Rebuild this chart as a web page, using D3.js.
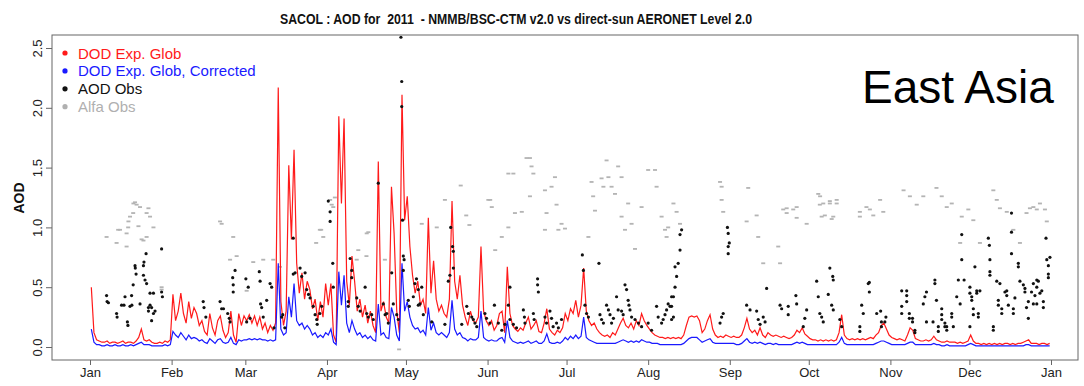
<!DOCTYPE html>
<html><head><meta charset="utf-8">
<script src="https://cdn.jsdelivr.net/npm/d3@7"></script>
<style>body{margin:0;background:#fff}svg{display:block}</style>
</head><body><svg id="c" width="1084" height="386"></svg>
<script>
// ---- data ----
const monthLabels = ["Jan","Feb","Mar","Apr","May","Jun","Jul","Aug","Sep","Oct","Nov","Dec","Jan"];
const yTicks = [0, 0.5, 1.0, 1.5, 2.0, 2.5];

// daily modelled dust optical depth (day 0 = 1 Jan 2011)
const dodGlob = [
// Jan
0.50,0.12,0.06,0.05,0.04,0.04,0.05,0.03,0.04,0.04,0.03,0.04,0.05,0.03,0.04,0.04,0.03,0.05,0.08,0.15,0.06,0.05,0.06,0.04,0.03,0.03,0.04,0.03,0.05,0.04,0.06,
// Feb
0.44,0.22,0.30,0.45,0.28,0.20,0.38,0.24,0.33,0.28,0.18,0.22,0.13,0.10,0.28,0.16,0.10,0.22,0.26,0.14,0.08,0.12,0.30,0.10,0.04,0.28,0.18,0.26,
// Mar
0.22,0.27,0.20,0.26,0.18,0.25,0.15,0.20,0.12,0.18,0.14,0.20,2.17,0.38,0.18,0.30,1.52,0.90,1.65,0.70,0.45,0.62,0.40,0.55,0.48,0.32,0.40,0.22,0.38,0.25,0.53,
// Apr
0.35,0.53,0.10,0.04,1.93,1.20,1.91,0.55,0.35,0.76,0.55,0.30,0.40,0.25,0.35,0.20,0.30,0.18,0.12,1.55,0.30,0.38,0.25,0.20,1.34,0.95,0.30,0.12,2.11,1.06,
// May
1.26,0.84,0.60,0.45,0.55,0.35,0.40,0.28,1.08,0.45,0.72,0.40,0.30,0.35,0.28,0.25,0.40,1.22,0.55,0.40,0.60,0.35,0.25,0.18,0.30,0.22,0.20,0.25,0.84,0.30,0.22,
// Jun
0.18,0.22,0.14,0.18,0.28,0.30,0.12,0.67,0.28,0.18,0.15,0.13,0.16,0.14,0.20,0.25,0.15,0.18,0.22,0.13,0.12,0.20,0.32,0.15,0.12,0.10,0.14,0.12,0.16,0.28,
// Jul
0.22,0.32,0.28,0.39,0.25,0.35,0.66,0.30,0.22,0.18,0.20,0.15,0.12,0.10,0.09,0.10,0.08,0.12,0.10,0.15,0.20,0.24,0.18,0.16,0.20,0.15,0.22,0.18,0.28,0.22,0.18,
// Aug
0.15,0.12,0.10,0.09,0.08,0.08,0.07,0.08,0.07,0.08,0.07,0.08,0.07,0.10,0.18,0.25,0.26,0.25,0.26,0.22,0.12,0.15,0.22,0.27,0.15,0.10,0.08,0.09,0.08,0.10,0.09,
// Sep
0.08,0.09,0.08,0.08,0.10,0.16,0.24,0.15,0.12,0.14,0.10,0.16,0.10,0.08,0.12,0.10,0.09,0.10,0.09,0.08,0.09,0.08,0.07,0.08,0.10,0.14,0.12,0.16,0.11,0.09,
// Oct
0.07,0.06,0.06,0.05,0.06,0.05,0.06,0.05,0.06,0.05,0.06,0.12,0.27,0.10,0.07,0.06,0.07,0.06,0.07,0.06,0.07,0.06,0.07,0.08,0.07,0.10,0.12,0.18,0.20,0.15,0.10,
// Nov
0.08,0.07,0.06,0.07,0.06,0.05,0.10,0.16,0.14,0.07,0.06,0.05,0.05,0.06,0.05,0.06,0.09,0.06,0.05,0.04,0.04,0.05,0.04,0.04,0.04,0.03,0.04,0.03,0.04,0.05,
// Dec
0.10,0.05,0.03,0.03,0.02,0.03,0.02,0.03,0.02,0.03,0.02,0.03,0.02,0.03,0.03,0.02,0.03,0.02,0.03,0.03,0.04,0.05,0.06,0.03,0.03,0.03,0.02,0.03,0.03,0.02,0.03
];

const dodCorr = [
// Jan
0.15,0.04,0.02,0.02,0.01,0.01,0.02,0.01,0.01,0.02,0.01,0.01,0.02,0.01,0.01,0.02,0.01,0.02,0.03,0.04,0.02,0.02,0.02,0.01,0.01,0.01,0.01,0.01,0.02,0.01,0.02,
// Feb
0.13,0.10,0.08,0.12,0.09,0.06,0.10,0.07,0.08,0.07,0.05,0.06,0.04,0.03,0.07,0.05,0.03,0.06,0.07,0.04,0.03,0.04,0.08,0.03,0.02,0.06,0.05,0.06,
// Mar
0.06,0.07,0.06,0.07,0.06,0.07,0.06,0.06,0.05,0.06,0.05,0.06,0.70,0.15,0.10,0.12,0.42,0.25,0.53,0.22,0.18,0.20,0.15,0.18,0.15,0.10,0.12,0.08,0.10,0.08,0.12,
// Apr
0.10,0.15,0.04,0.02,0.63,0.35,0.60,0.20,0.12,0.22,0.15,0.10,0.12,0.08,0.10,0.07,0.09,0.06,0.05,0.36,0.10,0.12,0.08,0.07,0.33,0.25,0.10,0.05,0.70,0.30,
// May
0.38,0.25,0.18,0.15,0.16,0.12,0.14,0.10,0.33,0.14,0.20,0.12,0.10,0.12,0.10,0.08,0.12,0.39,0.15,0.10,0.12,0.08,0.07,0.05,0.07,0.06,0.06,0.08,0.30,0.08,0.06,
// Jun
0.05,0.06,0.05,0.05,0.07,0.08,0.04,0.22,0.08,0.05,0.04,0.03,0.04,0.03,0.04,0.05,0.03,0.04,0.05,0.03,0.03,0.05,0.11,0.04,0.03,0.03,0.04,0.03,0.05,0.08,
// Jul
0.06,0.09,0.07,0.10,0.07,0.09,0.25,0.08,0.06,0.05,0.04,0.03,0.03,0.03,0.03,0.03,0.03,0.03,0.03,0.04,0.05,0.06,0.05,0.04,0.05,0.04,0.05,0.04,0.06,0.05,0.04,
// Aug
0.04,0.03,0.03,0.03,0.02,0.02,0.02,0.02,0.02,0.02,0.02,0.02,0.02,0.03,0.05,0.07,0.08,0.08,0.08,0.06,0.04,0.05,0.06,0.07,0.04,0.03,0.03,0.03,0.03,0.03,0.03,
// Sep
0.03,0.03,0.02,0.02,0.03,0.05,0.07,0.04,0.03,0.04,0.03,0.04,0.03,0.02,0.03,0.03,0.02,0.03,0.02,0.02,0.02,0.02,0.02,0.02,0.03,0.04,0.03,0.04,0.03,0.02,
// Oct
0.02,0.02,0.02,0.02,0.02,0.02,0.02,0.02,0.02,0.02,0.02,0.04,0.08,0.03,0.02,0.02,0.02,0.02,0.02,0.02,0.02,0.02,0.02,0.02,0.02,0.03,0.04,0.05,0.05,0.04,0.03,
// Nov
0.02,0.02,0.02,0.02,0.02,0.02,0.03,0.04,0.04,0.02,0.02,0.02,0.02,0.02,0.02,0.02,0.03,0.02,0.02,0.01,0.01,0.02,0.01,0.01,0.01,0.01,0.01,0.01,0.01,0.02,
// Dec
0.03,0.02,0.01,0.01,0.01,0.01,0.01,0.01,0.01,0.01,0.01,0.01,0.01,0.01,0.01,0.01,0.01,0.01,0.01,0.01,0.01,0.02,0.02,0.01,0.01,0.01,0.01,0.01,0.01,0.01,0.01
];

// AERONET AOD observations: [day of year, AOD]
const aodObs = [
[6.3,0.43],[6.5,0.38],[7.0,0.37],[10.1,0.28],[10.3,0.25],[12.0,0.35],[12.9,0.35],[13.3,0.42],[14.2,0.21],[14.4,0.18],[15.2,0.34],[15.8,0.43],[16.4,0.52],[17.1,0.68],[17.2,0.66],[17.5,0.61],[15.9,0.35],[19.0,0.36],[20.3,0.68],[20.5,0.71],[21.3,0.78],[20.3,0.60],[20.9,0.56],[21.5,0.53],[22.2,0.33],[22.2,0.30],[22.8,0.45],[24.1,0.45],[22.8,0.35],[23.4,0.33],[24.1,0.28],[23.4,0.22],[24.7,0.30],[27.2,0.82],[27.2,0.46],[27.5,0.42],
[43.0,0.38],[43.3,0.33],[44.0,0.25],[49.4,0.38],[50.0,0.32],[50.7,0.32],[52.3,0.28],[52.9,0.24],[53.2,0.21],[54.4,0.52],[54.4,0.46],[55.1,0.64],[54.2,0.58],
[59.2,0.57],[59.5,0.21],[60.1,0.50],[60.8,0.24],[64.3,0.63],[64.6,0.55],[64.8,0.36],[65.2,0.33],[65.8,0.25],[67.1,0.39],[68.4,0.53],[69.0,0.50],[69.9,0.16],[74.0,0.16],[73.2,0.27],[77.2,0.91],[77.2,0.61],
[72.8,0.25],[77.9,0.62],[79.8,0.66],[80.4,0.59],[81.7,0.62],[82.3,0.48],[83.0,0.44],[83.6,0.41],[84.8,0.34],[85.5,0.27],[86.1,0.23],[86.3,0.19],[87.3,0.28],[88.0,0.34],[90.5,1.22],[91.2,1.13],[91.2,1.05],[92.2,0.70],[92.4,0.50],[98.8,0.74],[99.4,0.64],[99.4,0.58],[98.1,0.38],[98.1,0.34],[101.3,0.41],[101.9,0.34],[102.6,0.30],[104.5,0.50],[105.1,0.28],[105.7,0.25],[107.0,0.27],[107.6,0.23],[109.5,1.37],[111.4,0.36],[112.1,0.27],[112.7,0.28],[113.3,0.20],[114.6,0.62],[115.2,0.36],[116.5,0.27],[117.1,0.23],[118.1,2.59],[118.4,2.22],[118.4,2.01],[118.7,1.06],[119.0,0.76],[119.3,0.73],[119.0,0.64],[120.9,0.39],[121.3,0.34],[122.8,0.42],[123.4,0.53],[124.0,0.57],[124.7,0.48],[125.3,0.36],[126.0,0.50],[124.7,0.35],[126.6,0.27],[129.8,0.21],[134.8,0.19],[136.1,0.55],[136.7,0.60],[137.0,1.00],[137.7,0.84],[138.0,0.80],[138.0,0.66],[141.2,0.19],[143.1,0.34],[143.7,0.28],[145.0,0.25],[145.6,0.23],[146.2,0.20],[146.9,0.17],
[150.0,0.28],[150.6,0.24],[151.9,0.20],[153.6,0.35],[155.1,0.20],[156.4,0.14],[157.6,0.19],[158.9,0.35],[159.5,0.50],[159.5,0.23],[160.8,0.19],[162.0,0.16],[164.6,0.31],[165.0,0.25],[165.2,0.20],[168.4,0.28],[168.7,0.23],[170.0,0.57],[170.0,0.52],[170.3,0.46],[172.8,0.25],[173.4,0.20],[174.7,0.30],[175.3,0.24],[175.9,0.17],[177.2,0.20],[177.9,0.16],[179.1,0.23],[187.0,0.77],[187.4,0.64],[188.0,0.35],[188.6,0.28],[189.3,0.25],[193.3,0.70],[193.7,0.27],[194.3,0.23],[195.0,0.20],[196.2,0.35],[196.9,0.31],[197.5,0.27],[198.1,0.20],[198.8,0.24],[200.0,0.42],[200.6,0.31],[201.9,0.30],[202.5,0.27],[203.2,0.52],[203.8,0.48],[204.4,0.39],[204.7,0.35],[205.1,0.31],[205.7,0.25],[207.0,0.23],[208.3,0.20],[209.5,0.17],[212.0,0.20],[213.3,0.14],[215.2,0.34],[215.8,0.25],[217.1,0.20],[217.7,0.23],[218.4,0.27],[219.0,0.31],[219.6,0.36],[220.3,0.34],[220.9,0.42],
[220.9,0.34],[221.6,0.42],[222.2,0.50],[222.8,0.59],[222.2,0.67],[223.4,0.70],[224.1,0.81],[224.1,0.94],[224.7,0.98],[221.6,0.25],[220.9,0.23],[239.3,0.20],[239.9,0.25],[240.5,0.28],[242.1,1.00],[242.4,0.95],[242.8,0.87],[242.4,0.84],[242.4,0.78],[249.4,0.35],[250.7,0.31],[253.2,0.30],[253.8,0.23],[254.5,0.19],[255.7,0.25],[256.4,0.21],[257.0,0.49],[262.1,0.35],[262.7,0.32],[265.2,0.34],[265.2,0.27],[268.1,0.43],[268.4,0.36],[270.9,0.17],[271.5,0.24],[272.2,0.31],[276.0,0.55],[276.6,0.42],[277.2,0.28],[277.9,0.25],[278.5,0.21],[280.4,0.44],[281.0,0.66],[282.1,0.59],[282.3,0.56],[281.7,0.35],[282.3,0.31],[284.8,0.23],[285.5,0.17],[293.1,0.35],[293.7,0.28],[295.6,0.53],
[292.4,0.17],[292.4,0.13],[296.0,0.54],[296.0,0.46],[298.8,0.28],[300.3,0.30],[300.6,0.21],[300.6,0.17],[301.9,0.21],[302.3,0.25],[308.3,0.47],[308.3,0.34],[308.3,0.28],[310.2,0.47],[310.2,0.43],[310.2,0.38],[311.2,0.28],[311.2,0.24],[312.4,0.24],[312.4,0.21],[313.3,0.14],[313.3,0.12],[316.5,0.36],[317.1,0.42],[317.7,0.46],[317.7,0.21],[320.2,0.21],[320.9,0.56],[320.9,0.53],[321.5,0.39],[322.2,0.17],[322.2,0.13],[323.5,0.32],[323.5,0.27],[323.5,0.23],[324.7,0.20],[324.7,0.17],[325.4,0.17],[325.4,0.14],[327.3,0.28],[327.3,0.25],[327.9,0.17],[329.2,0.42],[329.8,0.56],[330.5,0.36],[331.1,0.94],[331.1,0.73],[332.0,0.56],[334.2,0.50],[334.2,0.45],[334.9,0.42],[334.9,0.39],[334.2,0.17],[335.5,0.32],[335.5,0.27],[336.1,0.67],[336.8,0.47],[336.8,0.45],[337.4,0.28],[337.4,0.25],[338.0,0.47],[341.2,0.91],[341.6,0.85],[341.8,0.73],[341.8,0.63],[341.8,0.60],[343.1,0.17],[343.1,0.14],[344.4,0.55],[345.0,0.39],[345.0,0.35],[345.6,0.53],[346.3,0.32],[346.3,0.28],[347.5,0.46],[348.2,0.47],[348.2,0.43],[348.8,0.35],[350.0,1.12],[350.0,0.96],[350.0,0.78],[350.7,0.32],[350.7,0.28],[351.3,0.41],[352.6,0.70],[352.6,0.67],[353.2,0.55],[354.5,0.52],[355.1,0.49],[355.1,0.46],[355.7,0.33],[356.4,0.38],[356.4,0.24],[357.6,0.46],[358.3,0.53],[358.3,0.36],[358.9,0.43],[359.6,0.56],[359.6,0.50],[359.6,0.36],[360.2,0.55],[360.8,0.45],[361.5,0.47],[362.1,0.38],[362.1,0.33],[363.1,0.91],[363.4,0.73],[364.0,0.68],[364.0,0.61],[364.0,0.58],[364.6,0.75]
];

// Angstrom exponent observations: [day of year, alpha]
const alfaObs = [
[6.3,0.92],[10.1,0.87],[10.7,0.98],[11.4,0.98],[13.9,0.95],[14.5,1.00],[14.6,1.05],[15.2,1.09],[16.4,1.12],[16.5,1.20],[17.1,1.21],[17.7,1.19],[19.0,1.17],[21.5,1.12],[22.2,1.16],[22.8,1.09],[24.1,1.00],[20.3,0.89],[13.9,0.84],[21.5,0.92],[18.4,1.01],[19.6,0.90],[27.2,0.50],[27.2,0.48],
[49.4,1.05],[50.0,1.03],[54.4,0.92],[53.2,0.73],[55.7,0.76],
[59.5,0.47],[62.0,0.71],[65.8,0.73],[69.6,0.73],[72.1,0.67],
[85.9,0.87],[87.3,0.98],[87.8,0.98],[88.6,0.92],[91.2,1.23],[91.8,1.19],[92.4,1.17],[93.0,1.25],[101.3,0.73],[101.9,0.81],[105.0,0.76],[105.1,0.95],[105.7,0.96],[112.0,0.73],[117.4,-0.02],[126.0,1.03],[131.7,1.00],[134.8,1.23],[140.8,1.35],[142.9,1.10],[144.1,1.02],
[151.3,1.23],[152.0,1.23],[152.6,1.17],[153.9,0.81],[156.4,0.92],[158.9,1.45],[158.9,1.00],[160.8,1.45],[161.4,1.12],[164.0,1.13],[165.8,1.58],[167.1,1.58],[167.7,1.51],[168.4,1.45],[167.1,1.26],[172.8,1.31],[173.4,1.12],[175.3,1.34],[176.6,1.42],[177.2,1.19],[177.9,0.98],[179.1,1.03],[172.8,0.98],[180.4,0.99],
[189.3,0.92],[190.5,1.38],[191.1,1.26],[191.8,1.14],[194.3,1.41],[195.0,1.34],[196.2,1.56],[196.9,1.42],[198.1,1.34],[199.4,1.28],[200.6,1.51],[201.9,1.42],[201.9,1.09],[203.2,0.98],[204.4,1.20],[205.7,1.03],[207.0,0.82],[209.5,1.17],[212.0,1.48],[214.6,1.48],[215.2,1.34],[217.1,1.09],[218.4,0.98],[219.0,0.92],[219.6,1.00],
[221.6,1.20],[222.8,1.13],[224.1,1.03],[239.3,1.38],[239.9,1.34],[239.9,1.23],[240.5,1.13],[249.4,1.05],[250.0,1.33],[253.2,1.10],[253.8,0.92],[255.7,0.70],[261.4,0.84],[262.1,0.70],[263.3,1.15],[264.6,1.16],[264.6,1.12],[267.1,1.15],[268.4,1.17],[268.4,1.08],[272.2,1.03],
[276.6,1.28],[277.2,1.19],[277.3,1.26],[277.9,1.09],[278.5,1.20],[279.1,1.10],[281.0,1.20],[281.0,1.22],[281.7,1.07],[282.3,1.09],[283.6,1.20],[283.6,1.23],[292.4,1.13],[292.4,1.09],[294.9,1.17],[296.2,1.15],[297.5,1.10],[300.1,1.23],[301.3,1.13],
[309.0,1.31],[311.4,1.26],[314.0,1.19],[316.5,1.26],[321.5,1.33],[323.5,1.26],[325.4,1.17],[327.3,1.20],[330.5,0.87],[331.1,1.09],[333.6,1.15],[335.5,1.06],[338.0,0.87],[343.1,1.31],[344.4,1.23],[345.6,1.16],[348.2,1.13],[350.7,0.98],[353.2,0.87],[355.7,1.12],[357.0,1.16],[358.3,1.17],[359.6,1.15],[360.8,1.20],[362.7,1.15],[363.4,1.05]
];

// ---- drawing ----
const svg = d3.select("#c");
const FONT = "'Liberation Sans', Arial, Helvetica, sans-serif";
const frame = {left: 52, top: 35, right: 1078, bottom: 360};
const t0 = Date.UTC(2011, 0, 1);
const dayToDate = d => new Date(t0 + d * 864e5);

const x = d3.scaleUtc().domain([dayToDate(0), dayToDate(365)]).range([90, 1051]);
const y = d3.scaleLinear().domain([0, 2.5]).range([347, 48]);

svg.append("rect").attr("width", 1084).attr("height", 386).attr("fill", "#fff");

// clip
svg.append("clipPath").attr("id", "clip").append("rect")
  .attr("x", frame.left).attr("y", frame.top)
  .attr("width", frame.right - frame.left).attr("height", frame.bottom - frame.top);
const plot = svg.append("g").attr("clip-path", "url(#clip)");

// alfa obs (grey)
plot.append("g").selectAll("rect").data(alfaObs).join("rect")
  .attr("x", d => x(dayToDate(d[0])) - 2).attr("y", d => y(d[1]) - 0.9)
  .attr("width", 4).attr("height", 1.8).attr("fill", "#b4b4b4");

const line = d3.line().x((v, i) => x(dayToDate(i + 0.5))).y(v => y(v));
plot.append("path").datum(dodGlob).attr("d", line)
  .attr("fill", "none").attr("stroke", "#ff1a1a").attr("stroke-width", 1.2);
plot.append("path").datum(dodCorr).attr("d", line)
  .attr("fill", "none").attr("stroke", "#1a1aff").attr("stroke-width", 1.2);

// AOD obs (black)
plot.append("g").selectAll("circle").data(aodObs).join("circle")
  .attr("cx", d => x(dayToDate(d[0]))).attr("cy", d => y(d[1]))
  .attr("r", 1.6).attr("fill", "#111");

// frame
svg.append("rect").attr("x", frame.left).attr("y", frame.top)
  .attr("width", frame.right - frame.left).attr("height", frame.bottom - frame.top)
  .attr("fill", "none").attr("stroke", "#666").attr("stroke-width", 1);

// y axis
const yAxis = svg.append("g").attr("transform", `translate(${frame.left},0)`)
  .call(d3.axisLeft(y).tickValues(yTicks).tickFormat(d3.format(".1f")).tickSize(6).tickPadding(4));
yAxis.select(".domain").remove();
yAxis.selectAll("line").attr("stroke", "#666");
yAxis.selectAll("text")
  .attr("transform", "rotate(-90)").attr("x", 0).attr("y", -10).attr("dy", 0)
  .attr("text-anchor", "middle")
  .style("font-family", FONT).style("font-size", "13px").attr("fill", "#222");

// x axis
const monthDates = monthLabels.map((m, i) => new Date(Date.UTC(2011, i, 1)));
const xAxis = svg.append("g").attr("transform", `translate(0,${frame.bottom})`)
  .call(d3.axisBottom(x).tickValues(monthDates)
    .tickFormat((d, i) => monthLabels[i]).tickSize(5).tickPadding(3));
xAxis.select(".domain").remove();
xAxis.selectAll("line").attr("stroke", "#666");
xAxis.selectAll("text").style("font-family", FONT).style("font-size", "13px").attr("fill", "#222");

// y label
svg.append("text").attr("transform", "translate(24,198) rotate(-90)")
  .attr("text-anchor", "middle").style("font-family", FONT)
  .style("font-size", "14px").style("font-weight", "bold").attr("fill", "#111").text("AOD");

// title
svg.append("text").attr("x", 516).attr("y", 24).attr("text-anchor", "middle")
  .attr("textLength", 472).attr("lengthAdjust", "spacingAndGlyphs")
  .style("white-space", "pre").attr("xml:space", "preserve")
  .style("font-family", FONT).style("font-size", "14.5px").style("font-weight", "bold").attr("fill", "#111")
  .text("SACOL : AOD for  2011  - NMMB/BSC-CTM v2.0 vs direct-sun AERONET Level 2.0");

// region label
svg.append("text").attr("x", 862).attr("y", 103)
  .style("font-family", FONT).style("font-size", "46px").attr("fill", "#000").text("East Asia");

// legend
const legendItems = [
  {label: "DOD Exp. Glob", color: "#ff1a1a"},
  {label: "DOD Exp. Glob, Corrected", color: "#1a1aff"},
  {label: "AOD Obs", color: "#111"},
  {label: "Alfa Obs", color: "#b0b0b0"}
];
const lg = svg.append("g");
legendItems.forEach((it, i) => {
  const cy = 53 + i * 17.9;
  lg.append("circle").attr("cx", 65).attr("cy", cy).attr("r", 2.6).attr("fill", it.color);
  lg.append("text").attr("x", 78).attr("y", cy + 5.5)
    .style("font-family", FONT).style("font-size", "15px").attr("fill", it.color).text(it.label);
});
</script>
</body></html>
